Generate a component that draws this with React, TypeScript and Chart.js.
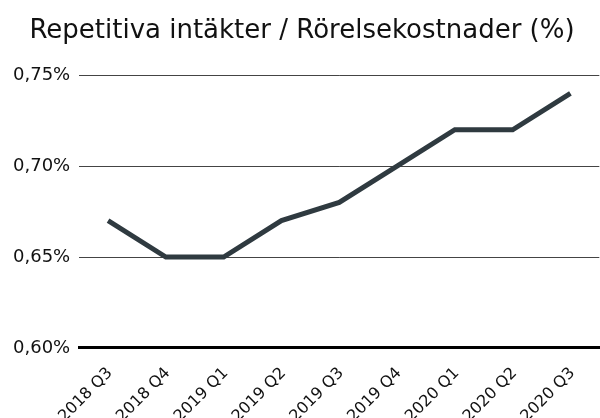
import React, { useEffect, useRef } from "react";
import { Chart, registerables } from "chart.js";

Chart.register(...registerables);

const categories = ["2018 Q3", "2018 Q4", "2019 Q1", "2019 Q2", "2019 Q3", "2019 Q4", "2020 Q1", "2020 Q2", "2020 Q3"];
const values = [0.67, 0.65, 0.65, 0.67, 0.68, 0.70, 0.72, 0.72, 0.74];
const titleText = "Repetitiva intäkter / Rörelsekostnader (%)";
const yMin = 0.6;
const yMax = 0.75;
const yStep = 0.05;

const FONT = "DejaVu Sans";

export default function App() {
  const ref = useRef<HTMLCanvasElement | null>(null);
  useEffect(() => {
    document.body.style.margin = "0";
    const ctx = ref.current!;
    const chart = new Chart(ctx, {
      type: "line",
      data: {
        labels: categories,
        datasets: [
          {
            data: values,
            borderColor: "#2f3a40",
            borderWidth: 5,
            pointRadius: 0,
            tension: 0,
            fill: false,
          },
        ],
      },
      options: {
        animation: false,
        responsive: false,
        layout: { padding: { left: 4, right: 0, top: 16, bottom: 3 } },
        plugins: {
          legend: { display: false },
          tooltip: { enabled: false },
          title: {
            display: true,
            text: titleText,
            color: "#111",
            font: { family: FONT, size: 26, weight: "normal" },
            padding: { top: 0, bottom: 28 },
          },
        },
        scales: {
          x: {
            offset: true,
            grid: { display: false, drawTicks: false },
            border: { display: true, color: "#000", width: 3 },
            ticks: {
              minRotation: 45,
              maxRotation: 45,
              color: "#111",
              padding: 16,
              labelOffset: 2,
              font: { family: FONT, size: 16 },
            },
          },
          y: {
            min: yMin,
            max: yMax,
            border: { display: false },
            grid: {
              drawTicks: false,
              color: (c: any) => (c.tick && Math.abs(c.tick.value - yMin) < 1e-9 ? "#000" : "#444"),
              lineWidth: (c: any) => (c.tick && Math.abs(c.tick.value - yMin) < 1e-9 ? 3 : 1),
            },
            ticks: {
              stepSize: yStep,
              color: "#111",
              padding: 9,
              font: { family: FONT, size: 18 },
              callback: (v: any) => Number(v).toFixed(2).replace(".", ",") + "%",
            },
          },
        },
      },
    });
    return () => chart.destroy();
  }, []);
  return (
    <div style={{ position: "absolute", left: 0, top: 0, width: 600, height: 418, overflow: "hidden" }}>
      <canvas ref={ref} width={600} height={445} />
    </div>
  );
}
